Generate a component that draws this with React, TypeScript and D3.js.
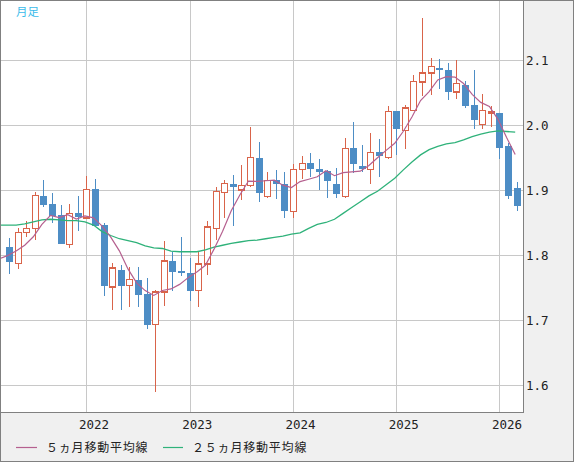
import React from "react";
import * as d3 from "d3";

const W = 574;
const H = 462;

const months: string[] = d3
  .timeMonths(new Date(2021, 3, 1), new Date(2026, 3, 1))
  .map((d) => d3.timeFormat("%Y-%m")(d));

const opens = [
  1.812, 1.787, 1.835, 1.841, 1.891, 1.878, 1.862, 1.816, 1.865, 1.857,
  1.902, 1.846, 1.751, 1.777, 1.753, 1.762, 1.740, 1.693, 1.743, 1.791,
  1.776, 1.773, 1.745, 1.786, 1.841, 1.896, 1.910, 1.900, 1.907, 1.950,
  1.890, 1.915, 1.910, 1.867, 1.932, 1.942, 1.933, 1.930, 1.910, 1.890,
  1.964, 1.937, 1.932, 1.958, 1.950, 2.022, 1.992, 2.022, 2.066, 2.080,
  2.088, 2.084, 2.051, 2.062, 2.031, 2.001, 2.019, 2.018, 1.967, 1.903,
];
const highs = [
  1.826, 1.842, 1.852, 1.897, 1.915, 1.895, 1.877, 1.878, 1.891, 1.922,
  1.917, 1.849, 1.787, 1.785, 1.781, 1.781, 1.764, 1.746, 1.821, 1.805,
  1.828, 1.795, 1.804, 1.852, 1.904, 1.916, 1.923, 1.938, 1.997, 1.974,
  1.928, 1.931, 1.927, 1.940, 1.952, 1.957, 1.948, 1.931, 1.934, 1.980,
  2.005, 1.969, 1.988, 1.978, 2.029, 2.022, 2.031, 2.077, 2.165, 2.103,
  2.102, 2.096, 2.100, 2.067, 2.085, 2.048, 2.029, 2.018, 1.972, 1.912,
];
const lows = [
  1.771, 1.778, 1.828, 1.823, 1.874, 1.850, 1.817, 1.811, 1.837, 1.855,
  1.844, 1.737, 1.716, 1.716, 1.720, 1.720, 1.686, 1.590, 1.722, 1.744,
  1.767, 1.730, 1.720, 1.770, 1.823, 1.857, 1.845, 1.884, 1.904, 1.882,
  1.887, 1.886, 1.857, 1.857, 1.917, 1.920, 1.900, 1.888, 1.888, 1.888,
  1.926, 1.927, 1.910, 1.920, 1.948, 1.954, 1.963, 2.022, 2.044, 2.046,
  2.055, 2.039, 2.040, 2.026, 1.994, 1.994, 1.997, 1.948, 1.886, 1.867,
];
const closes = [
  1.790, 1.835, 1.841, 1.892, 1.877, 1.860, 1.817, 1.864, 1.859, 1.901,
  1.845, 1.753, 1.780, 1.753, 1.762, 1.738, 1.693, 1.743, 1.791, 1.774,
  1.773, 1.745, 1.786, 1.843, 1.898, 1.910, 1.904, 1.907, 1.950, 1.895,
  1.915, 1.909, 1.868, 1.932, 1.941, 1.933, 1.928, 1.914, 1.894, 1.964,
  1.940, 1.933, 1.958, 1.953, 2.021, 1.994, 2.026, 2.067, 2.080, 2.090,
  2.084, 2.051, 2.064, 2.030, 2.007, 2.022, 2.020, 1.964, 1.891, 1.876,
];

// 5-month MA values before enough closes are visible (Mar 2021 .. Jul 2021)
const ma5Lead = [1.794, 1.799, 1.806, 1.815, 1.828];

// 25-month MA (Mar 2021 .. Mar 2026)
const ma25 = [
  1.846, 1.846, 1.846, 1.848, 1.851, 1.854, 1.855, 1.854, 1.853, 1.853,
  1.851, 1.846, 1.836, 1.830, 1.825, 1.822, 1.819, 1.814, 1.811, 1.810,
  1.806, 1.805, 1.805, 1.805, 1.808, 1.812, 1.815, 1.818, 1.820, 1.822,
  1.823, 1.825, 1.827, 1.829, 1.832, 1.834, 1.841, 1.847, 1.850, 1.855,
  1.864, 1.873, 1.882, 1.891, 1.898, 1.908, 1.918, 1.931, 1.943, 1.954,
  1.962, 1.967, 1.971, 1.973, 1.977, 1.982, 1.986, 1.989, 1.991, 1.990,
  1.989,
];

const yTicks = [1.6, 1.7, 1.8, 1.9, 2.0, 2.1];
const legendLabels = ["５ヵ月移動平均線", "２５ヵ月移動平均線"];
const titleLabel = "月足";

const BLUE = "#4d8dc5";
const RED = "#d9644a";
const MA5C = "#b5608f";
const MA25C = "#2fb27a";
const GRID = "#c8c8c8";
const FRAME = "#808080";

export default function App() {
  const plotR = 523;
  const plotB = 412;
  const x = d3.scalePoint<string>().domain(months).range([9, 516.7]);
  const y = d3.scaleLinear().domain([1.6, 2.1]).range([385, 60]);
  const step = x.step();
  const xi = (i: number) => 9 + i * step; // i may be -1 for lead point
  const lineOff = -1.5;

  const ma5: number[] = [...ma5Lead];
  for (let i = 4; i < closes.length; i++) {
    ma5.push(d3.mean(closes.slice(i - 4, i + 1)) as number);
  }
  const line = d3
    .line<number>()
    .x((_, k) => xi(k - 1) + lineOff)
    .y((v) => y(v));

  const yearTicks = months
    .map((m, i) => ({ m, i }))
    .filter((d) => d.m.endsWith("-01"));

  const bw = 6;
  const mono = "'DejaVu Sans Mono', 'Liberation Mono', monospace";
  const cjk = "'Noto Sans CJK JP', 'Noto Sans', sans-serif";

  return (
    <svg
      width={W}
      height={H}
      style={{ position: "fixed", left: 0, top: 0, display: "block" }}
    >
      <defs>
        <clipPath id="plot">
          <rect x={1} y={1} width={plotR - 1} height={plotB - 1} />
        </clipPath>
      </defs>
      <rect x={0.5} y={0.5} width={W - 1} height={H - 1} fill="#f0f0f0" stroke={FRAME} />
      <rect x={0.5} y={0.5} width={plotR} height={plotB} fill="#fff" stroke={FRAME} />
      <g clipPath="url(#plot)">
        {yTicks.map((t) => (
          <line
            key={t}
            x1={1}
            x2={plotR}
            y1={Math.round(y(t)) + 0.5}
            y2={Math.round(y(t)) + 0.5}
            stroke={GRID}
            strokeWidth={1}
            shapeRendering="crispEdges"
          />
        ))}
        {yearTicks.map((d) => (
          <line
            key={d.m}
            x1={Math.round(x(d.m)!) + 0.5}
            x2={Math.round(x(d.m)!) + 0.5}
            y1={1}
            y2={plotB}
            stroke={GRID}
            shapeRendering="crispEdges"
          />
        ))}
        {months.map((m, i) => {
          const o = opens[i];
          const c = closes[i];
          const up = c >= o;
          const col = up ? RED : BLUE;
          const cx = Math.round(x(m)!) + 0.5;
          const top = y(Math.max(o, c));
          const bot = y(Math.min(o, c));
          return (
            <g key={m} shapeRendering="crispEdges">
              <line x1={cx} x2={cx} y1={y(highs[i])} y2={y(lows[i])} stroke={col} />
              {up ? (
                <rect
                  x={cx - bw / 2}
                  y={top}
                  width={bw}
                  height={Math.max(1, bot - top)}
                  fill="#fff"
                  stroke={col}
                  strokeWidth={1.3}
                />
              ) : (
                <rect
                  x={cx - bw / 2 - 0.5}
                  y={top}
                  width={bw + 1}
                  height={Math.max(1.5, bot - top)}
                  fill={col}
                />
              )}
            </g>
          );
        })}
        <path d={line(ma25) || ""} fill="none" stroke={MA25C} strokeWidth={1.3} />
        <path d={line(ma5) || ""} fill="none" stroke={MA5C} strokeWidth={1.2} />
      </g>
      {yTicks.map((t) => (
        <text
          key={t}
          x={526}
          y={y(t) + 4.5}
          fontFamily={mono}
          fontSize={12.5}
          fill="#222"
        >
          {t.toFixed(1)}
        </text>
      ))}
      {yearTicks.map((d) => (
        <text
          key={d.m}
          x={x(d.m)! + 7.5}
          y={429}
          textAnchor="middle"
          fontFamily={mono}
          fontSize={12.5}
          fill="#222"
        >
          {d.m.slice(0, 4)}
        </text>
      ))}
      <text x={16} y={16} fontFamily={cjk} fontSize={11.5} fill="#3bbbea">
        {titleLabel}
      </text>
      <line x1={16} x2={37} y1={447.5} y2={447.5} stroke={MA5C} strokeWidth={1.2} />
      <text x={46} y={452} fontFamily={cjk} fontSize={12} letterSpacing={0.8} fill="#222">
        {legendLabels[0]}
      </text>
      <line x1={163} x2={183} y1={447.5} y2={447.5} stroke={MA25C} strokeWidth={1.2} />
      <text x={192} y={452} fontFamily={cjk} fontSize={12} letterSpacing={0.8} fill="#222">
        {legendLabels[1]}
      </text>
    </svg>
  );
}
